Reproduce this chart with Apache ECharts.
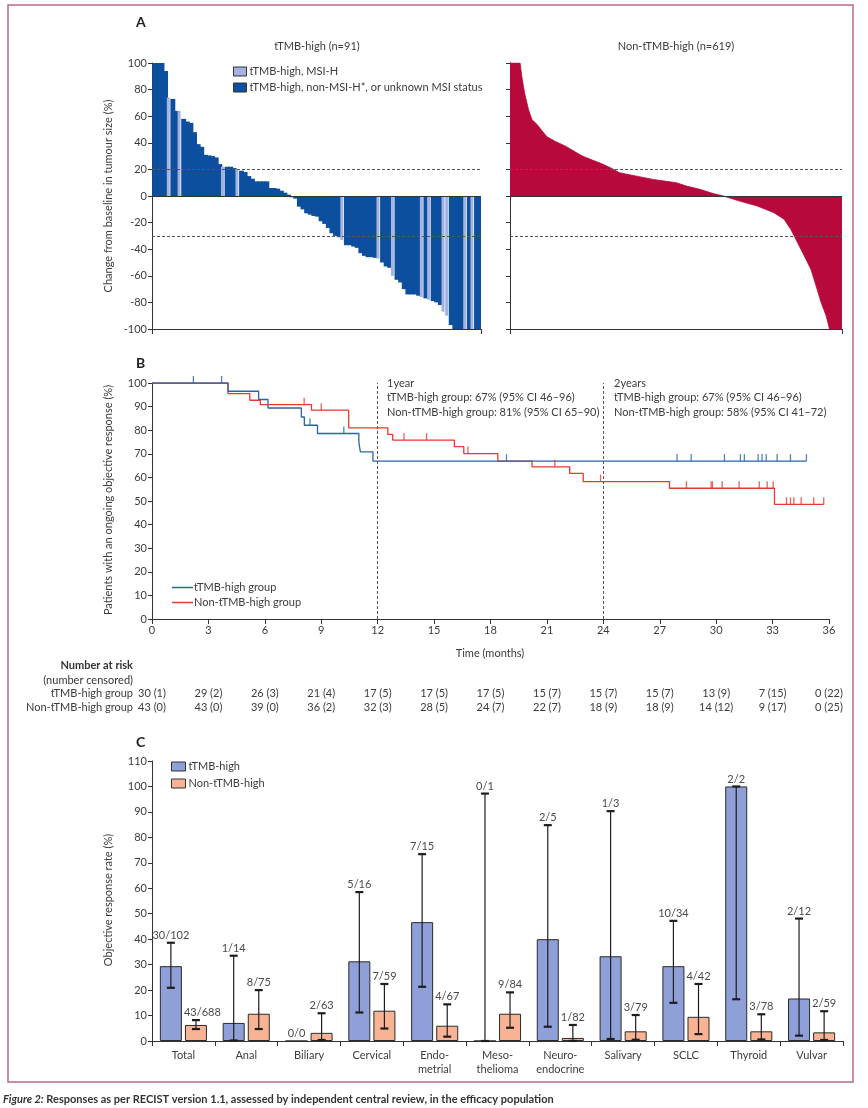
<!DOCTYPE html>
<html><head><meta charset="utf-8">
<script src="https://cdn.jsdelivr.net/npm/echarts/dist/echarts.min.js"></script>
<style>html,body{margin:0;padding:0;background:#fff}#c{width:868px;height:1108px}</style>
</head><body><div id="c"></div>
<script>
// ---------- DATA ----------
// Panel A, left: tTMB-high waterfall (91 patients), % change
const waterfallHigh = [100,100,100,94,74,73,64,64,58,56,55,48,39,37,31,30.5,30,29,24,22,22,22,21,20,19,18,15,13,11,11,11,11,6,6,5.5,4,2.5,1,-1,-2,-8,-10,-13,-14,-15,-15.5,-19,-21,-24,-28,-30,-31,-33,-37,-37,-38,-39,-43,-45,-46,-46,-46.5,-47,-50,-53,-54,-60,-63,-65,-70,-74,-74,-74,-75,-76,-77,-78,-79,-80,-82,-87,-90,-97,-100,-100,-100,-100,-100,-100,-100,-100];
// indices (0-based) of MSI-H patients
const msiHighIdx = [4,7,19,23,52,62,66,74,76,80,81,86,88];
// Panel A, right: non-tTMB-high waterfall profile [patient rank, % change]
const waterfallNon = [[0,100],[18.8,100],[22,90],[25,82.5],[28,76],[34.5,65],[40.8,57.5],[50,54],[59.6,49],[69,44.5],[84.7,41],[103.5,37.5],[122,33],[135,30],[153.6,27],[172.4,24],[191,20.5],[204,17.5],[222.6,16],[266.5,12.5],[291.6,11],[310,10],[329,7.5],[354,5],[379,1.8],[398,0],[429.5,-4],[461,-7.5],[492,-12.5],[511,-17.5],[523.5,-25],[536,-35],[548.6,-45],[561,-55],[570.6,-67.5],[580,-80],[589.4,-90],[595.7,-100],[619,-100]];
const nNon = 619;
// Panel B: Kaplan-Meier [months, %]
const kmHigh = [[0,100],[4.04,96.5],[5.67,93],[6.17,89.4],[7.94,85.6],[8.1,82.1],[8.8,78.6],[11.0,74.8],[11.08,70.8],[11.75,66.9],[34.8,66.9]];
const kmNon = [[0,100],[4.04,95.5],[5.2,92.7],[5.76,90.8],[8.48,88.5],[10.46,81],[12.54,78.2],[12.8,75.8],[16.08,73],[16.58,70.1],[18.39,66.9],[20.21,64.5],[22.21,61.7],[22.93,58.2],[27.52,55.4],[33.1,48.6],[35.72,48.6]];
const censorHigh = [2.2,3.7,8.4,10.2,18.85,27.92,28.67,30.44,31.29,31.5,32.23,32.44,32.66,33.24,33.95,34.8];
const censorNon = [8.09,9.0,13.4,14.6,16.8,21.42,23.85,28.42,29.73,29.8,30.32,31.22,32.29,32.71,33.03,33.74,33.95,34.13,34.52,35.19,35.72];
// Number at risk (number censored)
const riskMonths = [0,3,6,9,12,15,18,21,24,27,30,33,36];
const riskHigh = ['30 (1)','29 (2)','26 (3)','21 (4)','17 (5)','17 (5)','17 (5)','15 (7)','15 (7)','15 (7)','13 (9)','7 (15)','0 (22)'];
const riskNon = ['43 (0)','43 (0)','39 (0)','36 (2)','32 (3)','28 (5)','24 (7)','22 (7)','18 (9)','18 (9)','14 (12)','9 (17)','0 (25)'];
// Panel C: objective response rate (%)
const tumourTypes = ['Total','Anal','Biliary','Cervical','Endo-\nmetrial','Meso-\nthelioma','Neuro-\nendocrine','Salivary','SCLC','Thyroid','Vulvar'];
const orrHigh = [29.4,7.1,0,31.3,46.7,0,40,33.3,29.4,100,16.7];
const orrNon = [6.3,10.7,3.2,11.9,6.0,10.7,1.2,3.8,9.5,3.8,3.4];
const ciHighLo = [20.9,0.2,0,11.2,21.3,0,5.6,0.8,15.0,16.4,2.1];
const ciHighHi = [38.6,33.5,0,58.5,73.4,97.2,84.8,90.3,47.2,100,48.1];
const ciNonLo = [4.7,4.7,0.4,4.9,1.7,5.2,0.03,0.5,2.7,0.6,0.4];
const ciNonHi = [8.2,20,10.9,22.4,14.4,19.1,6.3,10.2,22.4,10.5,11.7];
const fracHigh = ['30/102','1/14','0/0','5/16','7/15','0/1','2/5','1/3','10/34','2/2','2/12'];
const fracNon = ['43/688','8/75','2/63','7/59','4/67','9/84','1/82','3/79','4/42','3/78','2/59'];

// ---------- STYLE ----------
const FONT = 'Lato, "Open Sans", sans-serif';
const TXT = '#3c3c3c';
const AX = '#333';
const DARK_BLUE = '#0c4f9e', LIGHT_BLUE = '#a4b2de', CRIMSON = '#b8093c';
const KM_BLUE = '#2a64a8', KM_RED = '#e63a2e';
const C_BLUE = '#8f9fd8', C_ORANGE = '#f8b395';
const BAR_W = 22, BAR_OFF = 12.54;

const chart = echarts.init(document.getElementById('c'), null, {renderer:'canvas'});

const catsA = waterfallHigh.map((v,i)=>String(i+1));
const darkData = waterfallHigh.map((v,i)=> msiHighIdx.includes(i) ? '-' : v);
const lightData = waterfallHigh.map((v,i)=> msiHighIdx.includes(i) ? v : '-');

function survAt(curve, t){ let s = curve[0][1]; for (const p of curve){ if (p[0] <= t) s = p[1]; } return s; }

const axLine = {show:true, onZero:false, lineStyle:{color:AX, width:1}};
const axTick = {show:true, length:4, lineStyle:{color:AX, width:1}};
const axLabel = {color:TXT, fontSize:11, fontFamily:FONT};

function errRender(side, labels){
  return function(params, api){
    const cat = api.value(0), lo = api.value(1), hi = api.value(2);
    const x = api.coord([cat, 0])[0] + side*BAR_OFF;
    const yLo = api.coord([cat, lo])[1], yHi = api.coord([cat, hi])[1];
    const ch = [];
    if (hi > 0){
      ch.push({type:'line', shape:{x1:x,y1:yLo,x2:x,y2:yHi}, style:{stroke:'#1e1e1e', lineWidth:1.2}});
      ch.push({type:'line', shape:{x1:x-4,y1:yHi,x2:x+4,y2:yHi}, style:{stroke:'#1e1e1e', lineWidth:2.2}});
      ch.push({type:'line', shape:{x1:x-4,y1:yLo,x2:x+4,y2:yLo}, style:{stroke:'#1e1e1e', lineWidth:2.2}});
    }
    const lx = side < 0 ? x : x - BAR_W/2 - 1;
    ch.push({type:'text', style:{text:labels[params.dataIndex], x:lx, y:yHi-2,
      align: side<0?'center':'left', verticalAlign:'bottom', textAlign: side<0?'center':'left', textVerticalAlign:'bottom',
      font:'11px '+FONT, fill:'#4a4a4a'}});
    return {type:'group', children:ch};
  };
}

const option = {
  animation:false,
  backgroundColor:'#fff',
  textStyle:{fontFamily:FONT},
  grid:[
    {left:152, top:63, width:329, height:266},
    {left:510, top:63, width:332, height:266},
    {left:152, top:383, width:677, height:236},
    {left:152, top:761, width:691, height:280}
  ],
  xAxis:[
    {gridIndex:0, type:'category', data:catsA, axisLine:{show:false}, axisTick:{show:false}, axisLabel:{show:false}},
    {gridIndex:0, type:'value', min:0, max:1, interval:1, position:'bottom', axisLine:axLine, axisTick:{show:true,length:5,lineStyle:{color:AX}}, axisLabel:{show:false}, splitLine:{show:false}},
    {gridIndex:1, type:'value', min:0, max:nNon, interval:nNon, position:'bottom', axisLine:axLine, axisTick:{show:true,length:5,lineStyle:{color:AX}}, axisLabel:{show:false}, splitLine:{show:false}},
    {gridIndex:2, type:'value', min:0, max:36, interval:3, axisLine:axLine, axisTick:{show:true,length:5,lineStyle:{color:AX}}, axisLabel:Object.assign({margin:6},axLabel), splitLine:{show:false}},
    {gridIndex:3, type:'category', data:tumourTypes, axisLine:axLine, axisTick:{show:true,length:5,lineStyle:{color:AX}}, axisLabel:Object.assign({margin:7, lineHeight:14, interval:0},axLabel)}
  ],
  yAxis:[
    {gridIndex:0, type:'value', min:-100, max:100, interval:20, axisLine:axLine, axisTick:axTick, axisLabel:Object.assign({margin:5},axLabel), splitLine:{show:false}},
    {gridIndex:1, type:'value', min:-100, max:100, interval:20, axisLine:axLine, axisTick:axTick, axisLabel:{show:false}, splitLine:{show:false}},
    {gridIndex:2, type:'value', min:0, max:100, interval:10, axisLine:axLine, axisTick:axTick, axisLabel:Object.assign({margin:5},axLabel), splitLine:{show:false}},
    {gridIndex:3, type:'value', min:0, max:110, interval:10, axisLine:axLine, axisTick:axTick, axisLabel:Object.assign({margin:5},axLabel), splitLine:{show:false}}
  ],
  legend:[
    {data:[{name:'tTMB-high, MSI-H', itemStyle:{borderColor:'#333',borderWidth:1}},
           {name:'tTMB-high, non-MSI-H*, or unknown MSI status', itemStyle:{borderColor:'#333',borderWidth:1}}],
     left:228, top:61, orient:'vertical', icon:'rect', itemWidth:13, itemHeight:9, itemGap:5, selectedMode:false,
     textStyle:{fontSize:11, color:TXT, fontFamily:FONT, padding:[0,0,0,-2]}},
    {data:['tTMB-high group','Non-tTMB-high group'], left:167, top:577, orient:'vertical', icon:'rect', itemWidth:21, itemHeight:1.5, itemGap:4, selectedMode:false,
     textStyle:{fontSize:11, color:TXT, fontFamily:FONT, padding:[0,0,0,-4]}},
    {data:[{name:'tTMB-high', itemStyle:{borderColor:'#333',borderWidth:1}},
           {name:'Non-tTMB-high', itemStyle:{borderColor:'#333',borderWidth:1}}],
     left:166, top:756, orient:'vertical', icon:'rect', itemWidth:14, itemHeight:9, itemGap:6, selectedMode:false,
     textStyle:{fontSize:11, color:TXT, fontFamily:FONT, padding:[0,0,0,-2]}}
  ],
  series:[
    // Panel A left
    {type:'line', xAxisIndex:1, yAxisIndex:0, data:[], z:1, silent:true,
     markLine:{silent:true, symbol:'none', label:{show:false},
       data:[{yAxis:20, lineStyle:{type:[3,2], color:'#555', width:1}},{yAxis:-30, lineStyle:{type:[3,2], color:'#555', width:1}}]}},
    {name:'tTMB-high, non-MSI-H*, or unknown MSI status', type:'bar', xAxisIndex:0, yAxisIndex:0, data:darkData, barGap:'-100%', barWidth:4.9, z:3,
     itemStyle:{color:DARK_BLUE}},
    {name:'tTMB-high, MSI-H', type:'bar', xAxisIndex:0, yAxisIndex:0, data:lightData, barGap:'-100%', barWidth:3, z:4,
     itemStyle:{color:LIGHT_BLUE}},
    {type:'line', xAxisIndex:1, yAxisIndex:0, data:[], z:5, silent:true,
     markLine:{silent:true, symbol:'none', label:{show:false}, data:[{yAxis:0, lineStyle:{type:'solid', color:AX, width:1}}]}},
    // Panel A right
    {type:'line', xAxisIndex:2, yAxisIndex:1, data:waterfallNon, symbol:'none', z:2,
     lineStyle:{color:CRIMSON, width:0.8}, areaStyle:{color:CRIMSON, opacity:1}},
    {type:'line', xAxisIndex:2, yAxisIndex:1, data:[], z:5, silent:true,
     markLine:{silent:true, symbol:'none', label:{show:false},
       data:[{yAxis:20, lineStyle:{type:[3,2], color:'#555', width:1}},{yAxis:-30, lineStyle:{type:[3,2], color:'#555', width:1}},
             {yAxis:0, lineStyle:{type:'solid', color:AX, width:1}}]}},
    // Panel B
    {type:'line', xAxisIndex:3, yAxisIndex:2, data:[], z:1, silent:true,
     markLine:{silent:true, symbol:'none', label:{show:false},
       data:[{xAxis:12, lineStyle:{type:[3,2], color:'#555', width:1}},{xAxis:24, lineStyle:{type:[3,2], color:'#555', width:1}}]}},
    {name:'tTMB-high group', type:'line', step:'end', xAxisIndex:3, yAxisIndex:2, data:kmHigh, symbol:'none', z:3,
     color:KM_BLUE, lineStyle:{color:KM_BLUE, width:1.3}},
    {name:'Non-tTMB-high group', type:'line', step:'end', xAxisIndex:3, yAxisIndex:2, data:kmNon, symbol:'none', z:2,
     color:KM_RED, lineStyle:{color:KM_RED, width:1.3}},
    {type:'scatter', xAxisIndex:3, yAxisIndex:2, data:censorHigh.map(t=>[t, survAt(kmHigh,t)]), symbol:'rect', symbolSize:[1.3,7], symbolOffset:[0,-3.5],
     itemStyle:{color:KM_BLUE}, z:4, silent:true},
    {type:'scatter', xAxisIndex:3, yAxisIndex:2, data:censorNon.map(t=>[t, survAt(kmNon,t)]), symbol:'rect', symbolSize:[1.3,7], symbolOffset:[0,-3.5],
     itemStyle:{color:KM_RED}, z:4, silent:true},
    // Panel C
    {name:'tTMB-high', type:'bar', xAxisIndex:4, yAxisIndex:3, data:orrHigh, barWidth:BAR_W, barGap:'14%',
     itemStyle:{color:C_BLUE, borderColor:'#2b2b2b', borderWidth:1}},
    {name:'Non-tTMB-high', type:'bar', xAxisIndex:4, yAxisIndex:3, data:orrNon, barWidth:BAR_W, barGap:'14%',
     itemStyle:{color:C_ORANGE, borderColor:'#2b2b2b', borderWidth:1}},
    {type:'custom', xAxisIndex:4, yAxisIndex:3, z:5, silent:true, clip:false,
     data:orrHigh.map((v,i)=>[i, ciHighLo[i], ciHighHi[i]]), renderItem:errRender(-1, fracHigh)},
    {type:'custom', xAxisIndex:4, yAxisIndex:3, z:5, silent:true, clip:false,
     data:orrNon.map((v,i)=>[i, ciNonLo[i], ciNonHi[i]]), renderItem:errRender(1, fracNon)}
  ]
};
chart.setOption(option);

// ---------- TEXT / ANNOTATIONS ----------
function t(text, x, y, o){ o=o||{}; return {type:'text', x:x, y:y, rotation:o.rot||0, silent:true, z:100,
  style:{text:text, font:(o.weight||'normal')+' '+(o.size||11)+'px '+FONT, fill:o.fill||TXT, textAlign:o.align||'left', textVerticalAlign:'middle', align:o.align||'left', verticalAlign:'middle'}}; }

const g = [];
g.push({type:'rect', shape:{x:8, y:5, width:845, height:1077}, style:{fill:null, stroke:'#b8688b', lineWidth:1.5}, silent:true, z:0});
g.push(t('A', 136, 22, {weight:'bold', size:14, fill:'#222'}));
g.push(t('tTMB-high (n=91)', 317, 46, {align:'center'}));
g.push(t('Non-tTMB-high (n=619)', 676, 46, {align:'center'}));
g.push(t('Change from baseline in tumour size (%)', 108, 196, {align:'center', rot:Math.PI/2}));
g.push(t('B', 136, 363, {weight:'bold', size:14, fill:'#222'}));
g.push(t('Patients with an ongoing objective response (%)', 108, 500, {align:'center', rot:Math.PI/2}));
g.push(t('1year', 387, 383));
g.push(t('tTMB-high group: 67% (95% CI 46–96)', 387, 397.5));
g.push(t('Non-tTMB-high group: 81% (95% CI 65–90)', 387, 412.5));
g.push(t('2years', 614, 383));
g.push(t('tTMB-high group: 67% (95% CI 46–96)', 614, 397.5));
g.push(t('Non-tTMB-high group: 58% (95% CI 41–72)', 614, 412.5));
g.push(t('Time (months)', 490, 653, {align:'center'}));
g.push(t('Number at risk', 133, 665, {align:'right', weight:'bold', fill:'#333'}));
g.push(t('(number censored)', 133, 680, {align:'right', fill:'#333'}));
g.push(t('tTMB-high group', 133, 693, {align:'right'}));
g.push(t('Non-tTMB-high group', 133, 707, {align:'right'}));
riskMonths.forEach((m,i)=>{
  const px = chart.convertToPixel({xAxisIndex:3}, m);
  g.push(t(riskHigh[i], px, 693, {align:'center'}));
  g.push(t(riskNon[i], px, 707, {align:'center'}));
});
g.push(t('C', 136, 742, {weight:'bold', size:14, fill:'#222'}));
g.push(t('Objective response rate (%)', 108, 900, {align:'center', rot:Math.PI/2}));
g.push({type:'text', x:3, y:1099, silent:true, z:100,
  style:{text:'{i|Figure 2:} Responses as per RECIST version 1.1, assessed by independent central review, in the efficacy population',
    font:'bold 11px '+FONT, fill:'#333', textVerticalAlign:'middle', verticalAlign:'middle',
    rich:{i:{fontStyle:'italic', fontWeight:'bold', fontSize:11, fontFamily:FONT, fill:'#333'}}}});
chart.setOption({graphic:g});
</script></body></html>
